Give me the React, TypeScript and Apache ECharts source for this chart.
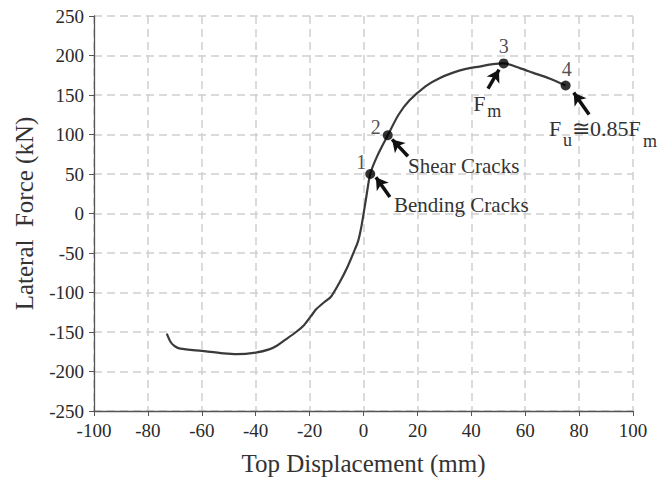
import React, { useEffect, useRef } from "react";
import * as echarts from "echarts";

const curve: [number, number][] = [
  [-73, -152], [-71.5, -163], [-70, -168], [-68, -171], [-60, -174], [-52, -177],
  [-47, -178], [-40, -176], [-35, -172], [-32, -167], [-29.5, -161], [-25, -150],
  [-22, -141], [-19.5, -130], [-17.5, -121], [-14.5, -112], [-12, -105], [-9, -88],
  [-6, -68], [-3.5, -48], [-2, -35], [-0.7, -15], [0.9, 18], [2.5, 50], [5, 72],
  [9, 99], [13, 125], [17, 143], [23, 161], [28, 171], [33, 178], [38, 183],
  [43, 186], [48, 189], [52, 190], [58, 184], [63, 178], [69, 171], [75, 162],
];

const keyPoints: [number, number, string][] = [
  [2.5, 50, "1"],
  [9, 99, "2"],
  [52, 190, "3"],
  [75, 162, "4"],
];
const keyLabelOffsets: [number, number][] = [[-9, -12], [-12, -8], [0, -17], [1, -17]];

const arrows: [[number, number], [number, number]][] = [
  [[9.8, 20.8], [4.6, 46]],
  [[16.5, 72.4], [10.6, 93.8]],
  [[46.2, 158], [50.3, 182]],
  [[83.7, 125.3], [78, 153]],
];

// annotation pieces: anchor coordinate, text, font size, pixel offset from anchor
const notes: { coord: [number, number]; text: string; size: number; offset: [number, number] }[] = [
  { coord: [16.5, 60], text: "Shear Cracks", size: 21, offset: [0, 0] },
  { coord: [11.3, 10.5], text: "Bending Cracks", size: 21, offset: [0, 0] },
  { coord: [40.7, 138.8], text: "F", size: 22, offset: [0, 0] },
  { coord: [40.7, 138.8], text: "m", size: 18, offset: [14, 7] },
  { coord: [68.8, 107.7], text: "F", size: 22, offset: [0, 0] },
  { coord: [68.8, 107.7], text: "u", size: 18, offset: [14, 11.5] },
  { coord: [68.8, 107.7], text: "≅0.85F", size: 22, offset: [23, 0] },
  { coord: [68.8, 107.7], text: "m", size: 18, offset: [94, 13] },
];

const xTicks = { min: -100, max: 100, interval: 20 };
const yTicks = { min: -250, max: 250, interval: 50 };

const FONT = "Liberation Serif";
const TXT = "#333";

export default function App() {
  const ref = useRef<HTMLDivElement>(null);
  useEffect(() => {
    if (!ref.current) return;
    const chart = echarts.init(ref.current, undefined, { renderer: "svg" });
    const grid = { color: "#cfcfcf", width: 1.5, type: [8, 5] as number[] };
    chart.setOption({
      animation: false,
      textStyle: { fontFamily: FONT },
      grid: { left: 94, right: 39, top: 16, bottom: 68 },
      xAxis: {
        type: "value",
        ...xTicks,
        name: "Top Displacement (mm)",
        nameLocation: "middle",
        nameGap: 40,
        nameTextStyle: { fontFamily: FONT, fontSize: 25, color: TXT },
        axisLine: { onZero: false, lineStyle: { color: "#555", width: 1.3 } },
        axisTick: { show: true, length: 5, lineStyle: { color: "#555" } },
        axisLabel: { fontFamily: FONT, fontSize: 19, color: "#2a2a2a", margin: 10 },
        splitLine: { show: true, lineStyle: grid },
      },
      yAxis: {
        type: "value",
        ...yTicks,
        name: "Lateral  Force (kN)",
        nameLocation: "middle",
        nameGap: 57,
        nameTextStyle: { fontFamily: FONT, fontSize: 25, color: TXT },
        axisLine: { onZero: false, lineStyle: { color: "#555", width: 1.3 } },
        axisTick: { show: true, length: 5, lineStyle: { color: "#555" } },
        axisLabel: { fontFamily: FONT, fontSize: 19, color: "#2a2a2a", margin: 10 },
        splitLine: { show: true, lineStyle: grid },
      },
      series: [
        {
          type: "line",
          data: curve,
          smooth: 0.25,
          symbol: "none",
          lineStyle: { color: "#3a3a3a", width: 2.2 },
          markLine: {
            silent: true,
            symbol: ["none", "arrow"],
            symbolSize: [11, 12],
            label: { show: false },
            lineStyle: { color: "#111", width: 3.5, type: "solid" },
            data: arrows.map(([a, b]) => [{ coord: a }, { coord: b }]),
          },
          markPoint: {
            silent: true,
            symbol: "circle",
            symbolSize: 0,
            data: notes.map((n) => ({
              coord: n.coord,
              label: {
                show: true,
                position: "right",
                distance: 0,
                offset: n.offset,
                formatter: n.text,
                fontFamily: FONT,
                fontSize: n.size,
                color: TXT,
              },
            })),
          },
        },
        {
          type: "scatter",
          data: keyPoints.map((p, i) => ({
            value: [p[0], p[1]],
            name: p[2],
            label: {
              show: true,
              position: "inside",
              offset: keyLabelOffsets[i],
              formatter: p[2],
              fontFamily: FONT,
              fontSize: 20,
              color: "#222",
            },
          })),
          symbol: "circle",
          symbolSize: 10,
          itemStyle: { color: "#000" },
          z: 5,
        },
      ],
    });
    return () => chart.dispose();
  }, []);
  return <div ref={ref} style={{ width: 672, height: 481, marginTop: -8, marginLeft: -8 }} />;
}
